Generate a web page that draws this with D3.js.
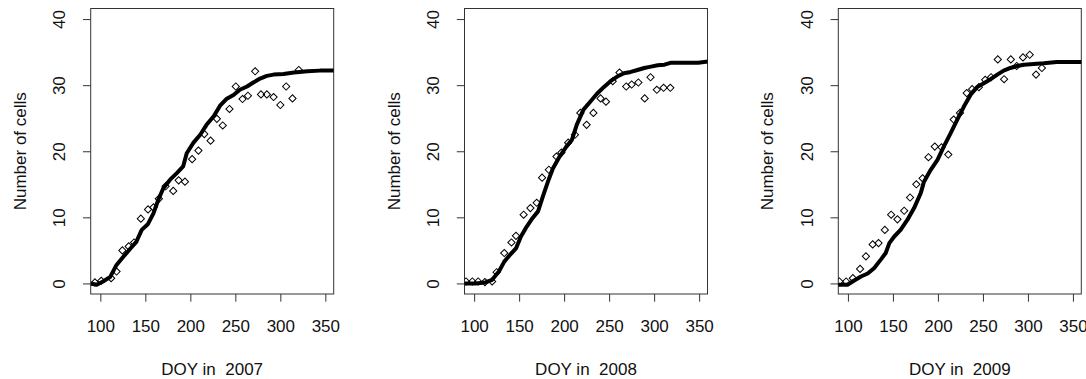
<!DOCTYPE html>
<html>
<head>
<meta charset="utf-8">
<script src="https://cdn.jsdelivr.net/npm/d3@7"></script>
<style>
  html, body { margin: 0; padding: 0; background: #fff; }
  svg text { font-family: "Liberation Sans", Arial, sans-serif; fill: #111; }
</style>
</head>
<body>
<div id="chart"></div>
<script>
// observed cell counts [DOY, cells]
const obs2007 = [[94,0.15],[101,0.4],[112,0.8],[118,1.8],[124.5,5.0],[131.5,5.6],[137.5,6.2],[145,9.8],[153,11.2],[159,11.5],[165,12.8],[172.5,14.7],[181,14.0],[187,15.6],[194,15.4],[202,18.8],[209,20.1],[215.5,22.6],[222.5,21.6],[229.5,24.9],[236,23.9],[243.5,26.4],[250.5,29.8],[258,27.9],[264,28.4],[272,32.1],[278.5,28.6],[285,28.6],[292.5,28.2],[300,27.0],[306.5,29.8],[313.5,28.0],[320.5,32.3]];
const obs2008 = [[91,0.3],[98,0.3],[104.5,0.3],[112,0.2],[120,0.3],[125,1.7],[133.5,4.6],[141.5,6.2],[146.5,7.2],[155,10.4],[162.5,11.4],[169.5,12.2],[175.5,16.0],[183,17.2],[191.5,19.2],[197,19.8],[204.5,21.3],[212,22.5],[218,25.8],[225,24.0],[232.5,25.8],[240.5,28.0],[246.5,27.5],[254,30.6],[261.5,31.9],[269,29.8],[275,30.1],[282.5,30.4],[289.5,28.0],[296,31.2],[303,29.3],[310.5,29.6],[318,29.6]];
const obs2009 = [[90.5,0.3],[98,0.3],[105.5,0.8],[113.5,2.2],[120,4.1],[127.5,5.9],[134,6.1],[141,8.1],[148,10.4],[155,9.7],[162.5,11.0],[169,13.0],[176,15.0],[183,15.9],[189.5,19.1],[196.5,20.7],[204,20.6],[211.5,19.5],[217.5,24.8],[224.5,25.8],[232,28.8],[238,29.4],[245.5,29.7],[252.5,30.8],[259,31.2],[266.5,33.9],[273.5,30.9],[281,33.9],[287.5,32.9],[294.5,34.2],[302,34.6],[309,31.6],[315.5,32.6]];

// fitted curves [DOY, cells]
const fit2007 = [[89,0],[96,-0.2],[103,0.3],[111,1.0],[118,2.8],[126,4.1],[133,5.2],[140,6.3],[146,8.1],[153,9.0],[159,10.6],[164.5,12.7],[170,14.4],[177.5,15.7],[185,16.7],[192,17.7],[196,19.7],[203.5,21.3],[211,22.5],[218,24.0],[226,25.3],[233,26.9],[240,27.9],[248,28.5],[255,29.3],[263,29.8],[270,30.4],[277.5,31.0],[285,31.4],[292.5,31.6],[303.5,31.7],[315,31.9],[330,32.1],[344,32.2],[360,32.2]];
const fit2008 = [[89,0],[101.5,0],[112.5,0.15],[120,0.55],[127.5,1.8],[133.5,3.3],[139,4.2],[146.5,5.3],[152,7.1],[157.5,8.4],[165,9.9],[171,10.9],[176.5,13.2],[182,15.4],[187.5,17.4],[195,19.2],[202.5,20.7],[208.5,21.7],[214,24.0],[221.5,26.3],[229,27.5],[236.5,28.7],[244,29.7],[251.5,30.6],[259,31.3],[266.5,31.8],[274,32.0],[281.5,32.3],[289,32.6],[296.5,32.8],[304,33.0],[311.5,33.1],[319,33.4],[334,33.4],[349,33.4],[360,33.6]];
const fit2009 = [[89,-0.2],[99.5,-0.2],[107,0.45],[114.5,1.05],[122,1.5],[129,2.3],[136.5,3.6],[142,4.6],[146,6.1],[151.5,7.1],[158.5,8.1],[166,9.6],[173.5,11.4],[181,13.7],[184.5,15.4],[192,17.2],[199.5,18.7],[206.5,20.7],[214,22.7],[221.5,24.8],[229,26.8],[236.5,28.6],[243.5,29.7],[251,30.3],[258.5,30.9],[266,31.6],[273,32.2],[280.5,32.6],[288,32.9],[295.5,33.1],[306.5,33.2],[317.5,33.3],[332,33.5],[347,33.5],[360,33.5]];

const years = ['2007', '2008', '2009'];
const xTicks = [100, 150, 200, 250, 300, 350];
const yTicks = [0, 10, 20, 30, 40];

const panels = [
  { year: years[0], obs: obs2007, fit: fit2007 },
  { year: years[1], obs: obs2008, fit: fit2008 },
  { year: years[2], obs: obs2009, fit: fit2009 },
];

const width = 1086, height = 379;
const plotW = 243, plotTop = 8.5, plotBottom = 294;
const lefts = [90.7, 464.5, 838.3];

const svg = d3.select('#chart').append('svg').attr('width', width).attr('height', height);
const defs = svg.append('defs');

const y = d3.scaleLinear().domain([-1.6, 41.6]).range([plotBottom, plotTop]);
const diamond = d3.symbol(d3.symbolSquare, 26);

panels.forEach((p, i) => {
  const left = lefts[i];
  const x = d3.scaleLinear().domain([89.3, 359.3]).range([left, left + plotW]);
  const g = svg.append('g');

  // clip to plot region
  defs.append('clipPath').attr('id', 'clip' + i)
    .append('rect').attr('x', left).attr('y', plotTop).attr('width', plotW).attr('height', plotBottom - plotTop);

  // x axis
  const xa = g.append('g').attr('transform', `translate(0,${plotBottom})`)
    .call(d3.axisBottom(x).tickValues(xTicks).tickSize(7.7).tickFormat(d3.format('d')));
  xa.select('.domain').remove();
  xa.selectAll('line').attr('stroke', '#333');
  xa.selectAll('text').attr('font-size', 17).attr('y', 37.5).attr('dy', null);

  // y axis
  const ya = g.append('g').attr('transform', `translate(${left},0)`)
    .call(d3.axisLeft(y).tickValues(yTicks).tickSize(7.7).tickFormat(d3.format('d')));
  ya.select('.domain').remove();
  ya.selectAll('line').attr('stroke', '#333');
  ya.selectAll('text')
    .attr('font-size', 17)
    .attr('x', null).attr('dy', null)
    .attr('text-anchor', 'middle')
    .attr('transform', 'translate(-25.5,0) rotate(-90)');

  // box
  g.append('rect')
    .attr('x', left).attr('y', plotTop).attr('width', plotW).attr('height', plotBottom - plotTop)
    .attr('fill', 'none').attr('stroke', '#333').attr('stroke-width', 1);

  const inner = g.append('g').attr('clip-path', `url(#clip${i})`);

  // observed points
  inner.selectAll('.pt').data(p.obs).enter().append('path')
    .attr('class', 'pt')
    .attr('d', diamond)
    .attr('transform', (d) => `translate(${x(d[0])},${y(d[1])}) rotate(45)`)
    .attr('fill', 'none').attr('stroke', '#000').attr('stroke-width', 1);

  // fitted line
  inner.append('path')
    .datum(p.fit)
    .attr('d', d3.line().x((d) => x(d[0])).y((d) => y(d[1])))
    .attr('fill', 'none').attr('stroke', '#000').attr('stroke-width', 4)
    .attr('stroke-linejoin', 'round');

  // titles
  g.append('text')
    .attr('x', left + plotW / 2).attr('y', 375)
    .attr('text-anchor', 'middle').attr('font-size', 17)
    .attr('xml:space', 'preserve')
    .text('DOY in  ' + p.year);

  g.append('text')
    .attr('transform', `translate(${left - 65},${(plotTop + plotBottom) / 2}) rotate(-90)`)
    .attr('text-anchor', 'middle').attr('font-size', 17)
    .text('Number of cells');
});
</script>
</body>
</html>
